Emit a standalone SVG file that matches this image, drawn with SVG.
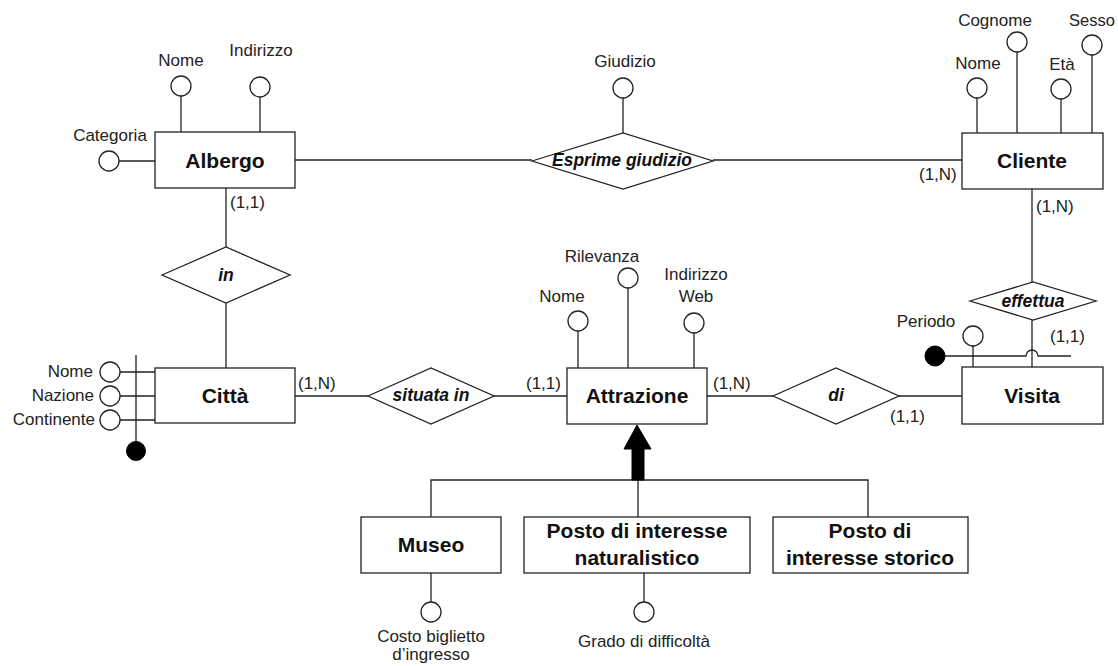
<svg xmlns="http://www.w3.org/2000/svg" width="1118" height="666" viewBox="0 0 1118 666">
<style>
  .ln{stroke:#222;stroke-width:1.3;fill:none}
  .ent{fill:#fff;stroke:#222;stroke-width:1.3}
  .rel{fill:#fff;stroke:#222;stroke-width:1.3}
  .att{fill:#fff;stroke:#222;stroke-width:1.3}
  .id{fill:#000;stroke:#000;stroke-width:1}
  .et{font-family:"Liberation Sans",Arial,sans-serif;font-size:21px;font-weight:bold;text-anchor:middle;fill:#111}
  .rt{font-family:"Liberation Sans",Arial,sans-serif;font-size:17.5px;font-weight:bold;font-style:italic;text-anchor:middle;fill:#111}
  .lt{font-family:"Liberation Sans",Arial,sans-serif;font-size:17px;fill:#222}
  .c{text-anchor:middle}
  .r{text-anchor:end}
</style>
<rect width="1118" height="666" fill="#fff"/>
<g id="connectors">
  <line class="ln" x1="295" y1="160" x2="532" y2="160"/>
  <line class="ln" x1="713" y1="160" x2="962" y2="160"/>
  <line class="ln" x1="226" y1="188" x2="226" y2="247"/>
  <line class="ln" x1="226" y1="303" x2="226" y2="368"/>
  <line class="ln" x1="295" y1="396" x2="368" y2="396"/>
  <line class="ln" x1="494" y1="396" x2="567" y2="396"/>
  <line class="ln" x1="707" y1="396" x2="773" y2="396"/>
  <line class="ln" x1="899" y1="396" x2="962" y2="396"/>
  <line class="ln" x1="1032" y1="189" x2="1032" y2="282"/>
  <line class="ln" x1="1032" y1="320" x2="1032" y2="367"/>
  <polyline class="ln" points="431,517 431,480 868,480 868,517"/>
  <line class="ln" x1="638" y1="480" x2="638" y2="517"/>
  <polygon points="637,425 651,449 644,449 644,480 632,480 632,449 624,449" fill="#000" stroke="#000" stroke-width="1"/>
  <text class="lt" x="230" y="208">(1,1)</text>
  <text class="lt" x="919" y="180">(1,N)</text>
  <text class="lt" x="1036" y="212">(1,N)</text>
  <text class="lt" x="1050" y="342">(1,1)</text>
  <text class="lt" x="298" y="389">(1,N)</text>
  <text class="lt" x="526" y="389">(1,1)</text>
  <text class="lt" x="713" y="389">(1,N)</text>
  <text class="lt" x="890" y="422">(1,1)</text>
</g>
<g id="albergo">
  <line class="ln" x1="181" y1="96" x2="181" y2="132"/>
  <circle class="att" cx="181" cy="86" r="10"/>
  <text class="lt c" x="181" y="66">Nome</text>
  <line class="ln" x1="260" y1="97" x2="260" y2="132"/>
  <circle class="att" cx="260" cy="87" r="10"/>
  <text class="lt c" x="261" y="56">Indirizzo</text>
  <line class="ln" x1="119" y1="161" x2="155" y2="161"/>
  <circle class="att" cx="109" cy="161" r="10"/>
  <text class="lt c" x="110" y="141">Categoria</text>
  <rect class="ent" x="155" y="132" width="140" height="56"/>
  <text class="et" x="225" y="168">Albergo</text>
</g>
<g id="esprime">
  <line class="ln" x1="623" y1="98" x2="623" y2="133"/>
  <circle class="att" cx="623" cy="88" r="10"/>
  <text class="lt c" x="625" y="67">Giudizio</text>
  <polygon class="rel" points="532,161 623,133 713,161 623,189"/>
  <text class="rt" x="622" y="166">Esprime giudizio</text>
</g>
<g id="cliente">
  <line class="ln" x1="977" y1="98" x2="977" y2="133"/>
  <circle class="att" cx="977" cy="88" r="10"/>
  <text class="lt c" x="978" y="69">Nome</text>
  <line class="ln" x1="1017" y1="52" x2="1017" y2="133"/>
  <circle class="att" cx="1017" cy="42" r="10"/>
  <text class="lt c" x="995" y="26">Cognome</text>
  <line class="ln" x1="1061" y1="99" x2="1061" y2="133"/>
  <circle class="att" cx="1061" cy="89" r="10"/>
  <text class="lt c" x="1062" y="70">Età</text>
  <line class="ln" x1="1092" y1="55" x2="1092" y2="133"/>
  <circle class="att" cx="1092" cy="45" r="10"/>
  <text class="lt" x="1069" y="26" style="font-size:16.5px">Sesso</text>
  <rect class="ent" x="962" y="133" width="141" height="56"/>
  <text class="et" x="1032" y="168">Cliente</text>
</g>
<g id="in">
  <polygon class="rel" points="162,275 226,247 290,275 226,303"/>
  <text class="rt" x="226" y="281">in</text>
</g>
<g id="citta">
  <line class="ln" x1="120" y1="372" x2="155" y2="372"/>
  <line class="ln" x1="120" y1="396" x2="155" y2="396"/>
  <line class="ln" x1="120" y1="420" x2="155" y2="420"/>
  <circle class="att" cx="110" cy="372" r="10"/>
  <circle class="att" cx="110" cy="396" r="10"/>
  <circle class="att" cx="110" cy="420" r="10"/>
  <line class="ln" x1="136" y1="355" x2="136" y2="445"/>
  <circle class="id" cx="136" cy="451" r="9.5"/>
  <text class="lt r" x="93" y="377">Nome</text>
  <text class="lt r" x="94" y="401">Nazione</text>
  <text class="lt r" x="95" y="425">Continente</text>
  <rect class="ent" x="155" y="368" width="140" height="55"/>
  <text class="et" x="225" y="403">Città</text>
</g>
<g id="situata">
  <polygon class="rel" points="368,396 431,368 494,396 431,424"/>
  <text class="rt" x="431" y="401">situata in</text>
</g>
<g id="attrazione">
  <line class="ln" x1="578" y1="331" x2="578" y2="368"/>
  <circle class="att" cx="578" cy="321" r="10"/>
  <text class="lt c" x="562" y="302">Nome</text>
  <line class="ln" x1="628" y1="288" x2="628" y2="368"/>
  <circle class="att" cx="628" cy="278" r="10"/>
  <text class="lt c" x="602" y="262">Rilevanza</text>
  <line class="ln" x1="694" y1="333" x2="694" y2="368"/>
  <circle class="att" cx="694" cy="323" r="10"/>
  <text class="lt c" x="696" y="280">Indirizzo</text>
  <text class="lt c" x="696" y="302">Web</text>
  <rect class="ent" x="567" y="368" width="140" height="56"/>
  <text class="et" x="637" y="403">Attrazione</text>
</g>
<g id="di">
  <polygon class="rel" points="773,396 836,368 899,396 836,424"/>
  <text class="rt" x="836" y="401">di</text>
</g>
<g id="effettua">
  <polygon class="rel" points="970,301 1033,282 1096,301 1033,320"/>
  <text class="rt" x="1033" y="307">effettua</text>
</g>
<g id="visita">
  <path class="ln" d="M945,356 H1026 A6,6 0 0 1 1038,356 H1071"/>
  <circle class="id" cx="935" cy="356" r="10"/>
  <line class="ln" x1="973" y1="346" x2="973" y2="367"/>
  <circle class="att" cx="973" cy="336" r="10"/>
  <text class="lt c" x="926" y="327">Periodo</text>
  <rect class="ent" x="962" y="367" width="141" height="57"/>
  <text class="et" x="1032" y="403">Visita</text>
</g>
<g id="museo">
  <rect class="ent" x="361" y="517" width="140" height="56"/>
  <text class="et" x="431" y="552">Museo</text>
  <line class="ln" x1="431" y1="573" x2="431" y2="602"/>
  <circle class="att" cx="431" cy="612" r="10"/>
  <text class="lt c" x="431" y="642">Costo biglietto</text>
  <text class="lt c" x="431" y="660">d’ingresso</text>
</g>
<g id="naturalistico">
  <rect class="ent" x="524" y="517" width="226" height="56"/>
  <text class="et" x="637" y="538">Posto di interesse</text>
  <text class="et" x="637" y="565">naturalistico</text>
  <line class="ln" x1="644" y1="573" x2="644" y2="602"/>
  <circle class="att" cx="644" cy="612" r="10"/>
  <text class="lt c" x="644" y="647">Grado di difficoltà</text>
</g>
<g id="storico">
  <rect class="ent" x="773" y="517" width="195" height="56"/>
  <text class="et" x="870" y="538">Posto di</text>
  <text class="et" x="870" y="565">interesse storico</text>
</g>
</svg>
